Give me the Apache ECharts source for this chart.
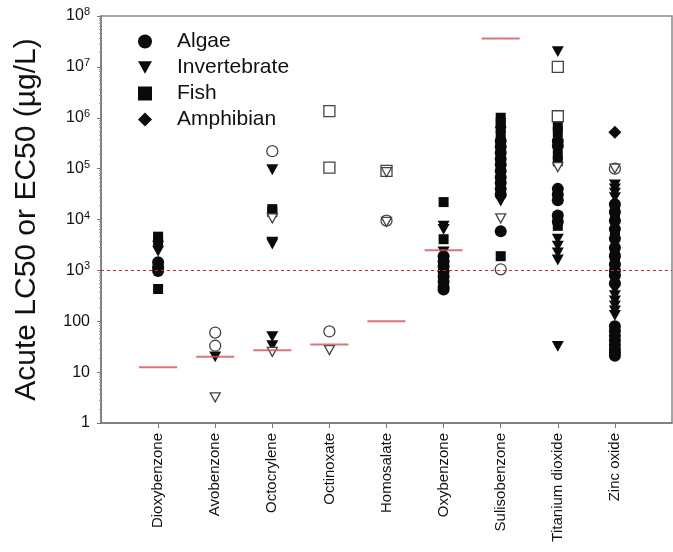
<!DOCTYPE html>
<html>
<head>
<meta charset="utf-8">
<script src="https://cdn.jsdelivr.net/npm/echarts@6/dist/echarts.min.js"></script>
<style>
  html, body { margin: 0; padding: 0; background: #fff; }
  #chart { width: 673px; height: 552px; }
</style>
</head>
<body>
<div id="chart"></div>
<script>
// categories on the x axis
var categories = ['Dioxybenzone', 'Avobenzone', 'Octocrylene', 'Octinoxate', 'Homosalate',
    'Oxybenzone', 'Sulisobenzone', 'Titanium dioxide', 'Zinc oxide'];

// values per category (same order as categories), µg/L
var algae = [
    [1450, 1150, 970],
    [],
    [],
    [],
    [],
    [1900, 1500, 1200, 950, 760, 600, 470, 420],
    [350000, 270000, 205000, 155000, 120000, 90000, 68000, 52000, 40000, 31000, 5900],
    [350000, 280000, 40000, 31000, 24000, 12000, 9000],
    [20000, 14000, 9500, 6500, 4200, 2800, 1900, 1300, 1000, 800, 560, 80, 64, 52, 42, 34, 28, 24, 21]
];
var invertebrate = [
    [3000, 2400],
    [20],
    [95000, 3600, 3300, 50, 33],
    [],
    [],
    [7400, 6400, 2300],
    [520000, 23000],
    [20000000, 4100, 3000, 2200, 1600, 32],
    [48000, 40000, 33000, 27000, 11000, 7500, 3500, 1700, 1100, 650, 420, 320, 250, 200, 160, 130]
];
var fish = [
    [4600, 3800, 430],
    [],
    [16000, 14000],
    [],
    [],
    [22000, 4100],
    [1000000, 800000, 620000, 450000, 300000, 180000, 1900],
    [680000, 520000, 190000, 140000, 11000, 7500],
    [17000, 12500, 5500, 2300, 1500, 900]
];
var amphibian = [[], [], [], [], [], [], [], [], [520000]];

// open (unfilled) markers
var openCircle = [[], [60, 33], [220000], [63], [9500], [], [1050], [], [100000]];
var openTriangle = [[], [3.2], [10500, 25], [27], [85000, 9000], [], [10500], [107000], [100000]];
var openSquare = [[], [], [], [1350000, 105000], [90000], [], [], [10000000, 1070000], []];

// red bars per category
var redBar = [12.5, 20, 27, 35, 100, 2500, 36000000, null, null];
var threshold = 1000;

var xCats = [' '].concat(categories).concat(['  ']);
var triDown = 'path://M0,0 L10,0 L5,9 Z';

function toPairs(arr) {
    var out = [];
    arr.forEach(function (vals, i) {
        vals.forEach(function (v) { out.push([categories[i], v]); });
    });
    return out;
}

function filled(name, data, symbol, size) {
    return {
        name: name, type: 'scatter', data: toPairs(data),
        symbol: symbol, symbolSize: size, symbolKeepAspect: true,
        itemStyle: { color: '#0a0a0a', opacity: 1 },
        z: 3
    };
}
function open(name, data, symbol, size) {
    return {
        name: name, type: 'scatter', data: toPairs(data),
        symbol: symbol, symbolSize: size, symbolKeepAspect: true,
        itemStyle: { color: '#fff', borderColor: '#444', borderWidth: 1.3, opacity: 1 },
        z: 4
    };
}

var redData = [];
redBar.forEach(function (v, i) { if (v != null) redData.push([categories[i], v]); });

var myChart = echarts.init(document.getElementById('chart'));
var option = {
    backgroundColor: '#fff',
    animation: false,
    textStyle: { fontFamily: 'Liberation Sans, Arial, sans-serif' },
    grid: {
        left: 101, right: 1, top: 16, bottom: 129, containLabel: false, outerBoundsMode: 'none',
        show: true, borderColor: '#888', borderWidth: 1.5
    },
    legend: {
        data: ['Algae', 'Invertebrate', 'Fish', 'Amphibian'],
        orient: 'vertical', left: 133, top: 26,
        itemWidth: 14, itemHeight: 14, itemGap: 5,
        textStyle: { fontSize: 21, color: '#111', padding: [0, 0, 0, 20], lineHeight: 21 }
    },
    xAxis: {
        type: 'category', data: xCats, boundaryGap: false,
        axisLine: { lineStyle: { color: '#777', width: 1.5 } },
        axisTick: { length: 5, lineStyle: { color: '#777' }, interval: function (i) { return i > 0 && i < xCats.length - 1; } },
        axisLabel: { rotate: 90, fontSize: 15, color: '#111', margin: 10, interval: 0 },
        splitLine: { show: false }
    },
    yAxis: {
        type: 'log', logBase: 10, min: 1, max: 100000000, splitNumber: 8,
        name: 'Acute LC50 or EC50 (µg/L)', nameLocation: 'middle', nameGap: 59,
        nameTextStyle: { fontSize: 30, color: '#111' },
        axisLine: { show: true, lineStyle: { color: '#777', width: 1.5 } },
        axisTick: { show: true, length: 4, lineStyle: { color: '#777' } },
        minorTick: { show: true, splitNumber: 10, length: 2, lineStyle: { color: '#999' } },
        splitLine: { show: false },
        axisLabel: {
            margin: 11, color: '#111', fontSize: 16,
            formatter: function (v) {
                var e = Math.round(Math.log10(v));
                if (e < 3) return String(Math.pow(10, e));
                return '10{sup|' + e + '}';
            },
            rich: { sup: { fontSize: 11, padding: [0, 0, 8, 0], color: '#111' } }
        }
    },
    series: [
        filled('Algae', algae, 'circle', 12),
        filled('Invertebrate', invertebrate, triDown, 12),
        filled('Fish', fish, 'rect', 10),
        filled('Amphibian', amphibian, 'diamond', 13),
        open('open square', openSquare, 'rect', 11),
        open('open circle', openCircle, 'circle', 11),
        open('open triangle', openTriangle, triDown, 10),
        {
            name: 'bar', type: 'scatter', data: redData,
            symbol: 'rect', symbolSize: [38, 2],
            itemStyle: { color: '#d4505c' }, z: 5,
            markLine: {
                silent: true, symbol: 'none', label: { show: false },
                lineStyle: { color: '#d02a2a', type: [3, 3], width: 1 },
                data: [{ yAxis: threshold }]
            }
        }
    ]
};
myChart.setOption(option);
</script>
</body>
</html>
